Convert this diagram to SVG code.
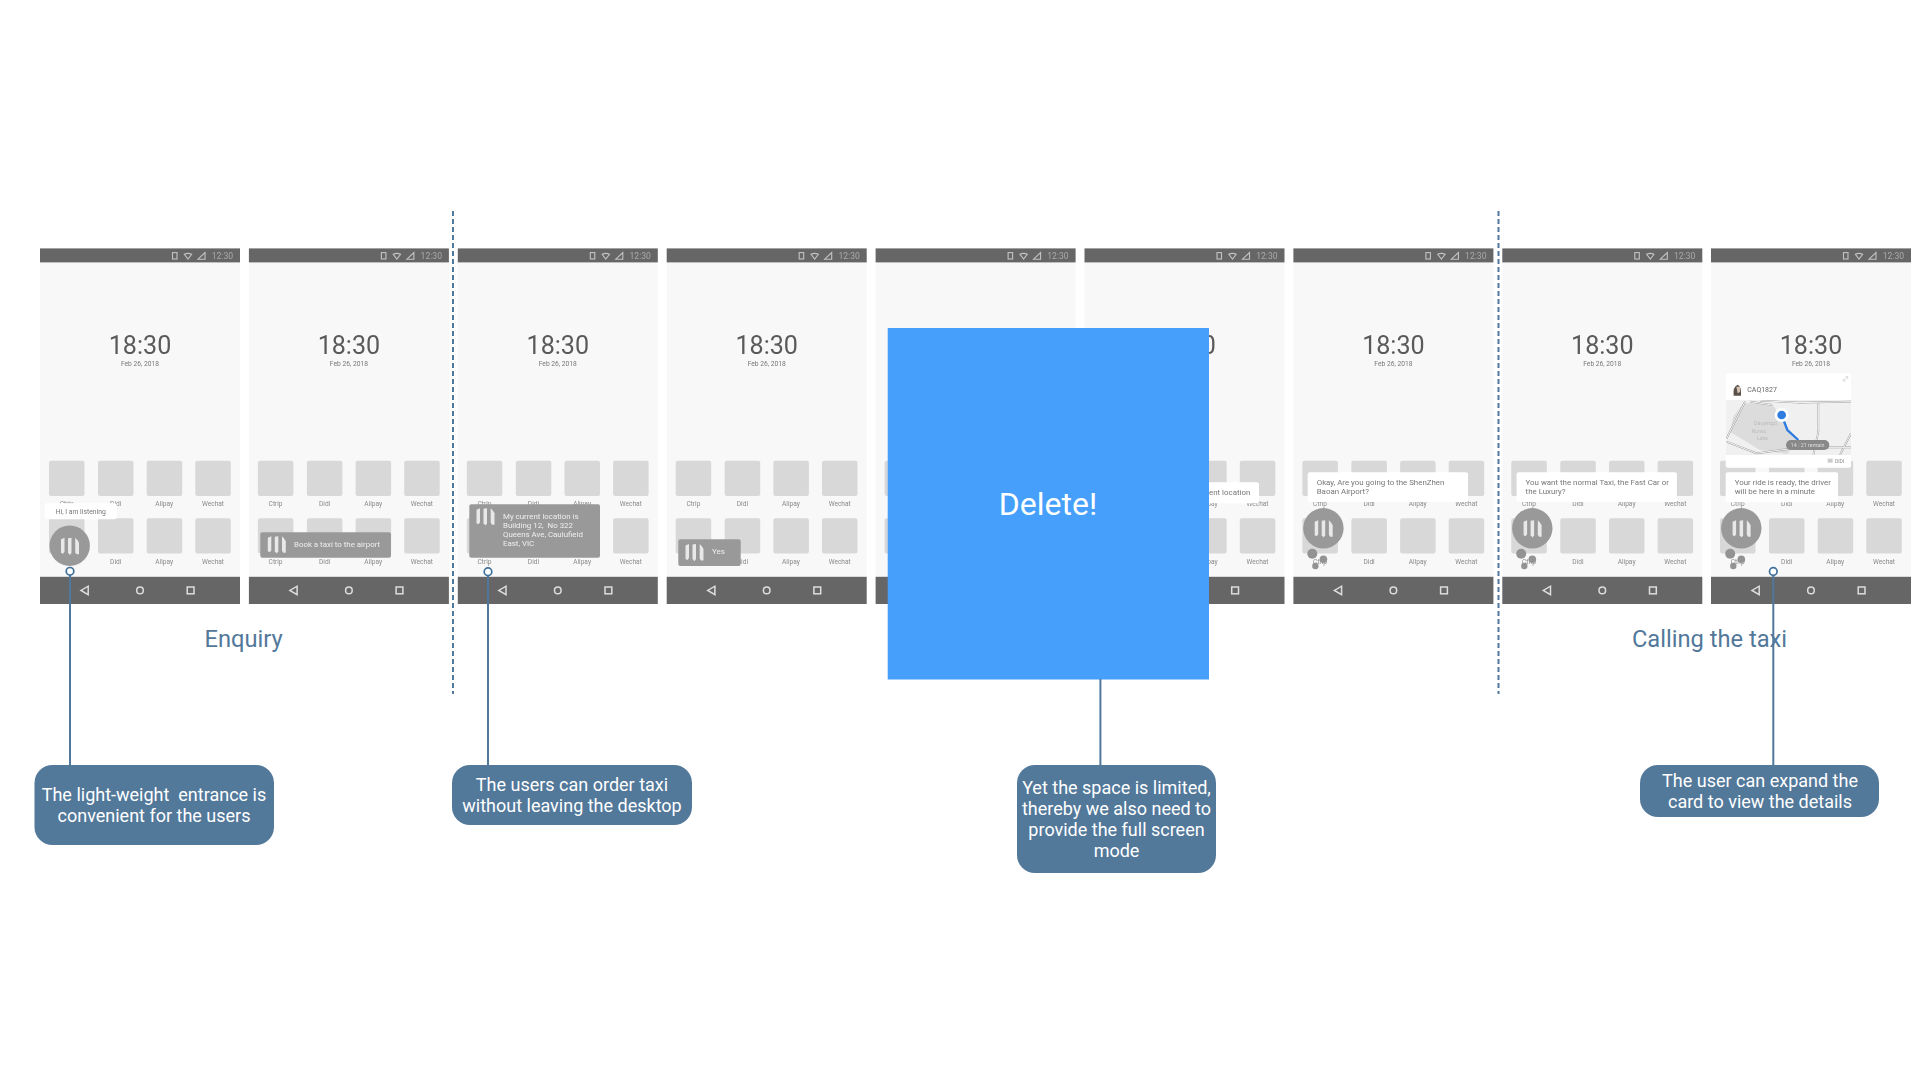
<svg xmlns="http://www.w3.org/2000/svg" width="1920" height="1080" viewBox="0 0 1920 1080">
<style>
text{font-family:Roboto,"Noto Sans",sans-serif;white-space:pre}
.ph{filter:url(#soft)}
.bar{fill:#666}
.scr{fill:#f8f8f8}
.app{fill:#d8d8d8}
.ic{fill:none;stroke:#c4c4c4;stroke-width:1.1}
.nav{fill:none;stroke:#ddd;stroke-width:1.5}
.tm{font-size:25.1px;fill:#5a5a5a;text-anchor:middle}
.dt{font-size:6.7px;fill:#777;text-anchor:middle}
.st{font-size:8.6px;fill:#aaa}
.lb{font-size:6.6px;fill:#8a8a8a;text-anchor:middle}
.tip{fill:#fff}
.tt{font-size:7.9px;fill:#777}
.ts{font-size:6.8px;fill:#777}
.gr{fill:#999}
.gt{font-size:7.9px;fill:#eee}
.cn{stroke:#4f789c;stroke-width:2;fill:none}
.ds{stroke:#4f789c;stroke-width:2;fill:none;stroke-dasharray:5 3}
.dot{stroke:#3f719b;stroke-width:1.7;fill:#fff}
.co{fill:#52789a}
.ct{font-size:18px;fill:#fff;text-anchor:middle}
.hd{font-size:23.7px;fill:#52789a;text-anchor:middle}
.road{fill:none;stroke:#8f8f8f;stroke-width:5}
.road2{fill:none;stroke:#f8f8f8;stroke-width:3}
</style>
<defs>
<filter id="soft" x="-5%" y="-5%" width="110%" height="110%"><feGaussianBlur stdDeviation="0.45"/></filter>
<g id="base">
<rect class="scr" y="262" width="200" height="315"/>
<rect class="bar" y="248.4" width="200" height="14"/>
<rect class="bar" y="576.8" width="200" height="27.2"/>
<rect class="ic" x="132.5" y="252.6" width="4.5" height="6.4"/>
<path class="ic" d="M144.3 254.3Q148 252.5 151.7 254.3L148 259Z"/>
<path class="ic" d="M165 252.5V259.2H158Z"/>
<path class="nav" d="M48.2 586.2V594.6L41 590.4Z"/>
<circle class="nav" cx="100" cy="590.4" r="3.3"/>
<rect class="nav" x="147.2" y="587" width="6.8" height="6.8"/>
<rect class="app" x="9" y="460.7" width="35.5" height="35.3" rx="2"/>
<rect class="app" x="58" y="460.7" width="35.5" height="35.3" rx="2"/>
<rect class="app" x="106.7" y="460.7" width="35.5" height="35.3" rx="2"/>
<rect class="app" x="155.3" y="460.7" width="35.5" height="35.3" rx="2"/>
<rect class="app" x="9" y="518.3" width="35.5" height="35.3" rx="2"/>
<rect class="app" x="58" y="518.3" width="35.5" height="35.3" rx="2"/>
<rect class="app" x="106.7" y="518.3" width="35.5" height="35.3" rx="2"/>
<rect class="app" x="155.3" y="518.3" width="35.5" height="35.3" rx="2"/>
</g>
<g id="wave">
<path fill="#e8e8e8" d="M0.5 1.5L4 0V14L2.5 16L0.5 15Z"/>
<path fill="#e8e8e8" d="M7.5 0.5L11 0V15L9.5 17.3L7.5 15Z"/>
<path fill="#e8e8e8" d="M14.7 0L17 2.5L18.5 5V16.5L16 16.5L14.7 14.5Z"/>
</g>
<g id="orb">
<circle class="gr" r="20.2"/>
<use href="#wave" x="-9.2" y="-8"/>
</g>
<g id="pips">
<circle fill="#939393" cx="-11.1" cy="25.4" r="5"/>
<circle fill="#939393" cx="0" cy="31" r="3.8"/>
<circle fill="#939393" cx="-8" cy="37.7" r="3.2"/>
</g>
<clipPath id="mapclip"><rect x="77" y="120" width="376" height="165"/></clipPath>
</defs>
<rect width="1920" height="1080" fill="#fff"/>

<g id="phone-1" class="ph" transform="translate(40,0)">
<use href="#base"/>
<text class="tm" x="100" y="354">18:30</text><text class="dt" x="100" y="366.4">Feb 26, 2018</text><text class="st" x="171.7" y="258.6">12:30</text>
<text class="lb" x="26.7" y="505.7">Ctrip</text><text class="lb" x="75.7" y="505.7">Didi</text><text class="lb" x="124.3" y="505.7">Alipay</text><text class="lb" x="173" y="505.7">Wechat</text>
<text class="lb" x="75.7" y="563.8">Didi</text><text class="lb" x="124.3" y="563.8">Alipay</text><text class="lb" x="173" y="563.8">Wechat</text>
<rect class="tip" x="4.7" y="503.3" width="72" height="16" rx="2"/>
<text class="ts" x="15.7" y="513.6">Hi, I am listening</text>
<use href="#orb" x="29.7" y="545.7"/>
</g>

<g id="phone-2" class="ph" transform="translate(248.9,0)">
<use href="#base"/>
<text class="tm" x="100" y="354">18:30</text><text class="dt" x="100" y="366.4">Feb 26, 2018</text><text class="st" x="171.7" y="258.6">12:30</text>
<text class="lb" x="26.7" y="505.7">Ctrip</text><text class="lb" x="75.7" y="505.7">Didi</text><text class="lb" x="124.3" y="505.7">Alipay</text><text class="lb" x="173" y="505.7">Wechat</text>
<text class="lb" x="26.7" y="563.8">Ctrip</text><text class="lb" x="75.7" y="563.8">Didi</text><text class="lb" x="124.3" y="563.8">Alipay</text><text class="lb" x="173" y="563.8">Wechat</text>
<rect class="gr" x="11.4" y="532.3" width="130.7" height="25.4" rx="2"/>
<use href="#wave" x="18.4" y="536.3"/>
<text class="gt" x="45.1" y="547">Book a taxi to the airport</text>
</g>

<g id="phone-3" class="ph" transform="translate(457.8,0)">
<use href="#base"/>
<text class="tm" x="100" y="354">18:30</text><text class="dt" x="100" y="366.4">Feb 26, 2018</text><text class="st" x="171.7" y="258.6">12:30</text>
<text class="lb" x="26.7" y="505.7">Ctrip</text><text class="lb" x="75.7" y="505.7">Didi</text><text class="lb" x="124.3" y="505.7">Alipay</text><text class="lb" x="173" y="505.7">Wechat</text>
<text class="lb" x="26.7" y="563.8">Ctrip</text><text class="lb" x="75.7" y="563.8">Didi</text><text class="lb" x="124.3" y="563.8">Alipay</text><text class="lb" x="173" y="563.8">Wechat</text>
<rect class="gr" x="11.5" y="504.3" width="130.7" height="53.4" rx="2"/>
<use href="#wave" x="18.2" y="508.3"/>
<text class="gt" x="45.2" y="519.3">My current location is</text>
<text class="gt" x="45.2" y="528.2">Building 12,  No 322</text>
<text class="gt" x="45.2" y="537">Queens Ave, Caulufield</text>
<text class="gt" x="45.2" y="546">East, VIC</text>
</g>

<g id="phone-4" class="ph" transform="translate(666.7,0)">
<use href="#base"/>
<text class="tm" x="100" y="354">18:30</text><text class="dt" x="100" y="366.4">Feb 26, 2018</text><text class="st" x="171.7" y="258.6">12:30</text>
<text class="lb" x="26.7" y="505.7">Ctrip</text><text class="lb" x="75.7" y="505.7">Didi</text><text class="lb" x="124.3" y="505.7">Alipay</text><text class="lb" x="173" y="505.7">Wechat</text>
<text class="lb" x="75.7" y="563.8">Didi</text><text class="lb" x="124.3" y="563.8">Alipay</text><text class="lb" x="173" y="563.8">Wechat</text>
<rect class="gr" x="11.6" y="539.3" width="62.4" height="26.7" rx="2"/>
<use href="#wave" x="18.3" y="544"/>
<text class="gt" x="45.3" y="554.3">Yes</text>
</g>

<g id="phone-5" class="ph" transform="translate(875.6,0)">
<use href="#base"/>
<text class="st" x="171.7" y="258.6">12:30</text>
</g>

<g id="phone-6" class="ph" transform="translate(1084.5,0)">
<use href="#base"/>
<text class="tm" x="100" y="354">18:30</text><text class="st" x="171.7" y="258.6">12:30</text>
<text class="lb" x="124.3" y="505.7">Alipay</text><text class="lb" x="173" y="505.7">Wechat</text>
<text class="lb" x="124.3" y="563.8">Alipay</text><text class="lb" x="173" y="563.8">Wechat</text>
<rect class="tip" x="90" y="482.3" width="84.5" height="21" rx="2"/>
<text class="tt" x="165.8" y="495.3" text-anchor="end">current location</text>
</g>

<g id="phone-7" class="ph" transform="translate(1293.4,0)">
<use href="#base"/>
<text class="tm" x="100" y="354">18:30</text><text class="dt" x="100" y="366.4">Feb 26, 2018</text><text class="st" x="171.7" y="258.6">12:30</text>
<text class="lb" x="26.7" y="505.7">Ctrip</text><text class="lb" x="75.7" y="505.7">Didi</text><text class="lb" x="124.3" y="505.7">Alipay</text><text class="lb" x="173" y="505.7">Wechat</text>
<text class="lb" x="26.7" y="563.8">Ctrip</text><text class="lb" x="75.7" y="563.8">Didi</text><text class="lb" x="124.3" y="563.8">Alipay</text><text class="lb" x="173" y="563.8">Wechat</text>
<rect class="tip" x="14.3" y="472.3" width="160.3" height="29.7" rx="2"/>
<text class="tt" x="23.3" y="485.3">Okay, Are you going to the ShenZhen</text>
<text class="tt" x="23.3" y="494.3">Baoan Airport?</text>
<use href="#pips" x="30" y="528.3"/>
<use href="#orb" x="30" y="528.3"/>
</g>

<g id="phone-8" class="ph" transform="translate(1502.3,0)">
<use href="#base"/>
<text class="tm" x="100" y="354">18:30</text><text class="dt" x="100" y="366.4">Feb 26, 2018</text><text class="st" x="171.7" y="258.6">12:30</text>
<text class="lb" x="26.7" y="505.7">Ctrip</text><text class="lb" x="75.7" y="505.7">Didi</text><text class="lb" x="124.3" y="505.7">Alipay</text><text class="lb" x="173" y="505.7">Wechat</text>
<text class="lb" x="26.7" y="563.8">Ctrip</text><text class="lb" x="75.7" y="563.8">Didi</text><text class="lb" x="124.3" y="563.8">Alipay</text><text class="lb" x="173" y="563.8">Wechat</text>
<rect class="tip" x="14.3" y="472.3" width="160.3" height="29.7" rx="2"/>
<text class="tt" x="23.3" y="485.3">You want the normal Taxi, the Fast Car or</text>
<text class="tt" x="23.3" y="494.3">the Luxury?</text>
<use href="#pips" x="30" y="528.3"/>
<use href="#orb" x="30" y="528.3"/>
</g>

<g id="phone-9" class="ph">
<use href="#base" x="1711"/>
<text class="tm" x="1811" y="354">18:30</text><text class="dt" x="1811" y="366.4">Feb 26, 2018</text><text class="st" x="1882.7" y="258.6">12:30</text>
<text class="lb" x="1737.7" y="505.7">Ctrip</text><text class="lb" x="1786.7" y="505.7">Didi</text><text class="lb" x="1835.3" y="505.7">Alipay</text><text class="lb" x="1884" y="505.7">Wechat</text>
<text class="lb" x="1737.7" y="563.8">Ctrip</text><text class="lb" x="1786.7" y="563.8">Didi</text><text class="lb" x="1835.3" y="563.8">Alipay</text><text class="lb" x="1884" y="563.8">Wechat</text>
<rect class="tip" x="1725.7" y="373.3" width="125.3" height="94.4" rx="2"/>
<g transform="translate(1700,360) scale(.33333)">
<g clip-path="url(#mapclip)">
<rect x="77" y="120" width="376" height="165" fill="#f0f0f0"/>
<path fill="#dcdcdc" d="M130 130L215 130L262 200L295 240L262 282L180 270L90 215L100 170Z"/>
<path class="road" d="M80 235L135 125M180 122L300 128L453 125M355 130L355 215L340 285M80 245L170 280L300 262L453 262M453 220L420 285M150 125L215 135"/>
<path class="road2" d="M80 235L135 125M180 122L300 128L453 125M355 130L355 215L340 285M80 245L170 280L300 262L453 262M453 220L420 285M150 125L215 135"/>
<path d="M245 165L262 210L295 240" fill="none" stroke="#2f7be0" stroke-width="7"/>
<text x="162" y="196" font-size="16" fill="#bbb">Daoyingzi</text>
<text x="155" y="220" font-size="16" fill="#bbb">Runsu</text>
<text x="170" y="240" font-size="16" fill="#bbb">Lake</text>
<circle cx="245" cy="165" r="21" fill="#fff"/>
<circle cx="245" cy="165" r="13" fill="#2f7be0"/>
<rect x="258" y="240" width="130" height="30" rx="15" fill="#888"/>
<text x="323" y="260" font-size="16" fill="#ddd" text-anchor="middle">14 : 21 remain</text>
</g>
<path d="M101 107Q98 80 113 74Q125 78 123 107Z" fill="#5a5048"/>
<path d="M109 80H120V96L113 100Z" fill="#d4c2b4"/>
<text x="142" y="97" font-size="21" fill="#666">CAQ1827</text>
<path d="M430 63L443 50M436 50H443V57M430 56V63H437" fill="none" stroke="#ccc" stroke-width="2"/>
<rect x="383" y="296" width="15" height="12" fill="#ccc"/>
<text x="405" y="309" font-size="15" fill="#888">DIDI</text>
</g>
<rect class="tip" x="1725.7" y="472.3" width="112.3" height="30" rx="2"/>
<text class="tt" x="1734.7" y="485">Your ride is ready, the driver</text>
<text class="tt" x="1734.7" y="494.3">will be here in a minute</text>
<use href="#pips" x="1741.3" y="528.3"/>
<use href="#orb" x="1741.3" y="528.3"/>
</g>

<g id="delete-panel">
<rect x="887.7" y="328" width="321.3" height="351.5" fill="#459ffb"/>
<text x="1048" y="515" font-size="32" fill="#fff" text-anchor="middle">Delete!</text>
</g>

<g id="section-labels">
<text class="hd" x="243.7" y="647">Enquiry</text>
<text class="hd" x="1709.5" y="647">Calling the taxi</text>
</g>

<g id="connectors">
<path class="ds" d="M453 211V694"/>
<path class="ds" d="M1498.5 211V694"/>
<path class="cn" d="M70 575V765"/>
<path class="cn" d="M488 575V765"/>
<path class="cn" d="M1100.4 679V765"/>
<path class="cn" d="M1773.3 575V765"/>
<circle class="dot" cx="70" cy="571.3" r="3.8"/>
<circle class="dot" cx="488" cy="571.7" r="3.8"/>
<circle class="dot" cx="1773.3" cy="571.5" r="3.8"/>
</g>

<g id="note-1">
<rect class="co" x="34.5" y="765" width="239.5" height="80" rx="18"/>
<text class="ct" x="154" y="800.7">The light-weight  entrance is</text>
<text class="ct" x="154" y="821.7">convenient for the users</text>
</g>
<g id="note-2">
<rect class="co" x="452" y="765" width="240" height="60" rx="18"/>
<text class="ct" x="572" y="790.7">The users can order taxi</text>
<text class="ct" x="572" y="811.7">without leaving the desktop</text>
</g>
<g id="note-3">
<rect class="co" x="1017" y="765" width="199" height="108" rx="18"/>
<text class="ct" x="1116.5" y="794.2">Yet the space is limited,</text>
<text class="ct" x="1116.5" y="815">thereby we also need to</text>
<text class="ct" x="1116.5" y="835.8">provide the full screen</text>
<text class="ct" x="1116.5" y="856.7">mode</text>
</g>
<g id="note-4">
<rect class="co" x="1640" y="765" width="239" height="52" rx="18"/>
<text class="ct" x="1760" y="786.7">The user can expand the</text>
<text class="ct" x="1760" y="807.5">card to view the details</text>
</g>
</svg>
